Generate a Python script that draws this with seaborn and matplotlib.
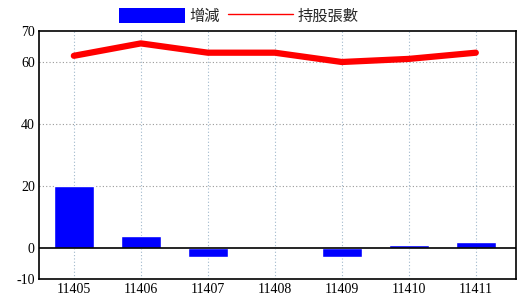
import matplotlib
matplotlib.use("Agg")
import matplotlib.pyplot as plt
import seaborn as sns
import pandas as pd
from matplotlib.patches import Patch
from matplotlib.lines import Line2D

periods = ["11405", "11406", "11407", "11408", "11409", "11410", "11411"]
change = [20, 4, -3, 0, -3, 1, 2]
holdings = [62, 66, 63, 63, 60, 61, 63]
yticks = [-10, 0, 20, 40, 60, 70]

sns.set_style("white")
plt.rcParams['font.family'] = ['Liberation Serif', 'Noto Sans CJK TC', 'DejaVu Sans']

df = pd.DataFrame({"period": periods, "change": change, "holdings": holdings})

fig = plt.figure(figsize=(5.2, 3.0), dpi=100)
ax = fig.add_axes([39/520, 1 - 279/300, (516-39)/520, (279-31)/300])

sns.barplot(data=df, x="period", y="change", color="#0000ff", width=0.6,
            saturation=1, ax=ax, zorder=3)
sns.lineplot(x=list(range(len(periods))), y=holdings, color="#ff0000",
             linewidth=4.5, ax=ax, zorder=4)

ax.set_xlim(-0.52, 6.6)
ax.set_ylim(-10, 70)
ax.set_yticks(yticks)
ax.set_yticklabels([str(v) for v in yticks])
ax.set_xlabel("")
ax.set_ylabel("")
ax.axhline(0, color="black", linewidth=1.2, zorder=5)
for v in [20, 40, 60]:
    ax.axhline(v, color="#999999", linewidth=0.8, linestyle=(0, (1, 2)), zorder=1)
for i in range(len(periods)):
    ax.axvline(i, color="#a0b8cc", linewidth=0.8, linestyle=(0, (1, 2)), zorder=1)
for s in ax.spines.values():
    s.set_color("black")
    s.set_linewidth(1.2)
ax.tick_params(axis="both", length=0, labelsize=10, colors="black", pad=3)

handles = [Patch(facecolor="#0000ff", edgecolor="none"),
           Line2D([0], [0], color="#ff0000", linewidth=1)]
fig.legend(handles, ["增減", "持股張數"], loc="center", bbox_to_anchor=(239/520, 1 - 16/300),
           ncol=2, frameon=False, handlelength=4.3, handleheight=1.2, handletextpad=0.3,
           columnspacing=0.5, prop={"family": ["Noto Sans CJK TC"], "size": 11})

fig.savefig("out.png", dpi=100)
